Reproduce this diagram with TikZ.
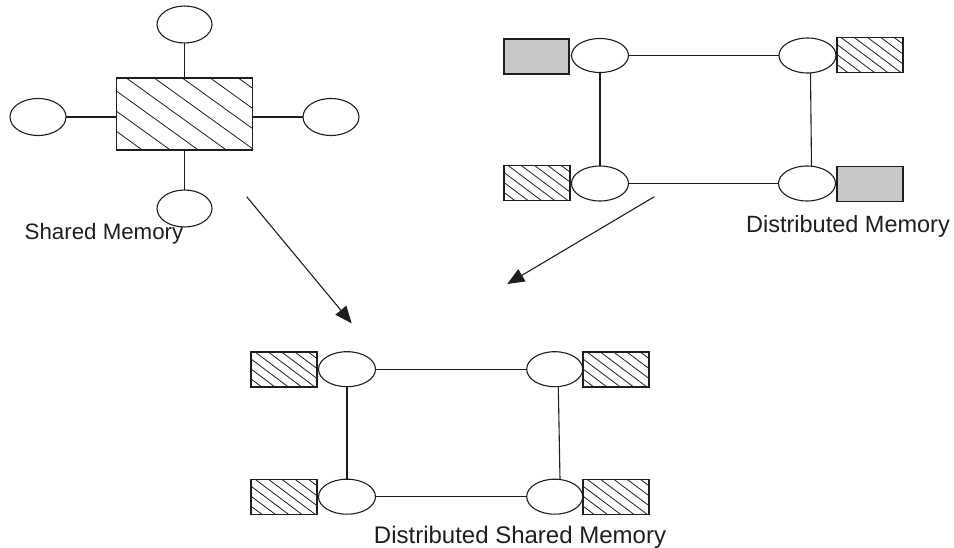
\documentclass[tikz,border=0pt]{standalone}
\usepackage{fontspec}
\setmainfont{Liberation Sans}
\usetikzlibrary{shapes.geometric,arrows.meta,calc}
\definecolor{memgray}{RGB}{200,200,200}
\definecolor{ink}{RGB}{30,30,30}

\begin{document}
\begin{tikzpicture}[x=1pt,y=-1pt,
  every node/.style={inner sep=0pt, outer sep=0pt},
  % diagonal hatching: period, slope, phase along the top edge
  hatchfill/.style n args={3}{path picture={
      \coordinate (hnw) at (path picture bounding box.north west);
      \foreach \k in {-10,...,10}
        \draw[ink, line width=0.8pt] ($(hnw)+(#3+\k*#1,0)$) -- ++(200,200*#2);
    }},
  proc/.style={draw=ink, ellipse, line width=1.1pt, minimum width=57pt, minimum height=35pt},
  mem/.style={draw=ink, rectangle, line width=1.1pt, minimum width=66pt, minimum height=35pt},
  gmem/.style={mem, fill=memgray},
  hmem/.style={mem, hatchfill={13.3}{0.75}{4}},
  link/.style={draw=ink, line width=1.1pt},
  flow/.style={draw=ink, line width=1.1pt, -{Triangle[length=17pt,width=14pt]}},
  caption/.style={text=ink, anchor=base}
]
\useasboundingbox (0,0) rectangle (954,548);

% ---- shared memory ----
\node[mem, minimum width=136pt, minimum height=72pt, hatchfill={28}{0.72}{10}] (sm) at (184.3,114) {};
\node[proc, minimum width=55pt, minimum height=37pt] (st) at (184.5,24.5) {};
\node[proc, minimum width=56pt, minimum height=37pt] (sl) at (38,117) {};
\node[proc, minimum width=56pt, minimum height=37pt] (sr) at (331,117) {};
\node[proc, minimum width=55pt, minimum height=37pt] (sb) at (184.5,208.5) {};
\draw[link] (st.south) -- (st.south |- sm.north);
\draw[link] (sb.north) -- (sb.north |- sm.south);
\draw[link] (sl.east) -- (sl.east -| sm.west);
\draw[link] (sr.west) -- (sr.west -| sm.east);
\node[caption, font=\fontsize{22.3}{26}\selectfont] (capS) at (104,240) {Shared Memory};

% ---- distributed memory ----
\node[proc, minimum height=34pt] (dtl) at (600,55.5) {};
\node[proc] (dtr) at (807.5,55.5) {};
\node[proc] (dbl) at (600,183.5) {};
\node[proc] (dbr) at (807,183.5) {};
\node[gmem, minimum width=65pt] (dtlm) at (536.5,56.5) {};
\node[hmem] (dtrm) at (870,55) {};
\node[hmem] (dblm) at (537,183) {};
\node[gmem] (dbrm) at (870,183.7) {};
\draw[link] (dtl.east) -- (dtr.west);
\draw[link] (dbl.east) -- (dbr.west);
\draw[link] (dtl.south) -- (dbl.north);
\draw[link] ([xshift=3pt]dtr.south) -- ([xshift=4.5pt]dbr.north);
\node[caption, font=\fontsize{23.5}{28}\selectfont] (capD) at (848,233) {Distributed Memory};

% ---- distributed shared memory ----
\node[proc] (btl) at (347,369.2) {};
\node[proc, minimum width=56pt] (btr) at (554.7,369.2) {};
\node[proc] (bbl) at (347,496.7) {};
\node[proc, minimum width=56pt] (bbr) at (554.7,496.7) {};
\node[hmem] (btlm) at (284,369.5) {};
\node[hmem] (btrm) at (616,369.5) {};
\node[hmem] (bblm) at (284,496.7) {};
\node[hmem] (bbrm) at (616,496.7) {};
\draw[link] (btl.east) -- (btr.west);
\draw[link] (bbl.east) -- (bbr.west);
\draw[link] (btl.south) -- (bbl.north);
\draw[link] ([xshift=3.6pt]btr.south) -- ([xshift=5.3pt]bbr.north);
\node[caption, font=\fontsize{24}{28}\selectfont] (capB) at (520,543) {Distributed Shared Memory};

% ---- combining arrows ----
\coordinate (fromS) at (246.7,196.7);
\coordinate (toB1) at (351.7,323.3);
\coordinate (fromD) at (654.3,196.7);
\coordinate (toB2) at (507.3,284);
\draw[flow] (fromS) -- (toB1);
\draw[flow] (fromD) -- (toB2);
\end{tikzpicture}
\end{document}
